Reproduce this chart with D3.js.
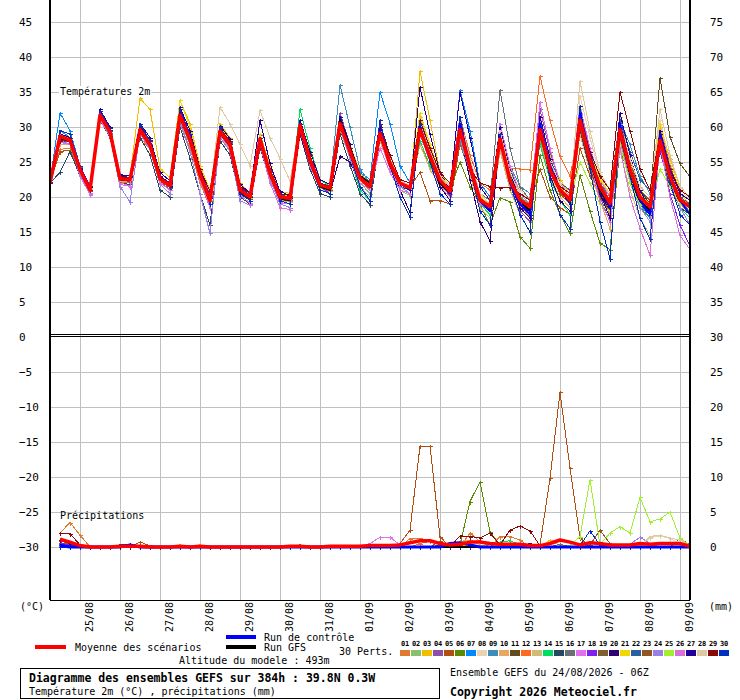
<!DOCTYPE html>
<html><head><meta charset="utf-8">
<script src="https://cdn.jsdelivr.net/npm/d3@7"></script>
<style>
body{margin:0;background:#fff;}
svg text{font-family:"DejaVu Sans Mono","Liberation Mono",monospace;fill:#000;}
</style></head><body>
<svg id="c" width="740" height="700"></svg>
<script>
// ---------- categories / ticks ----------
const dateLabels = ["25/08","26/08","27/08","28/08","29/08","30/08","31/08","01/09","02/09","03/09","04/09","05/09","06/09","07/09","08/09","09/09"];
const dateTickHours = [18,42,66,90,114,138,162,186,210,234,258,282,306,330,354,378];
const tempTicks = [45,40,35,30,25,20,15,10,5,0,-5,-10,-15,-20,-25,-30];
const mmTicks = [75,70,65,60,55,50,45,40,35,30,25,20,15,10,5,0];
const memberNames = ["01","02","03","04","05","06","07","08","09","10","11","12","13","14","15","16","17","18","19","20","21","22","23","24","25","26","27","28","29","30"];
const memberColors = ["#e07a30","#88c070","#f0c000","#8c50a8","#b05010","#5a8a00","#0088ff","#e8d4b0","#3c8cbc","#e8a860","#604c1c","#ff6820","#d0bc78","#00dc60","#284860","#687078","#e070f0","#8020f0","#806030","#300070","#f0d800","#2860a0","#905820","#9880e8","#a0f030","#d870d8","#200098","#e0c8a0","#880808","#0030c0"];

// ---------- temperature 2m (°C), 6-hourly from 24/08 06Z ----------
const meanTemp = [22, 28.7,28.1,23.9,21, 31.7,29.3,22.6,22.5, 29.6,27.4,22.6,21.6, 31.7,28.2,23.2,19.5, 29.4,27.5,21,20, 28.3,23.4,20,19.8, 30.3,25.3,21.7,21.3, 30.5,26.5,22.7,21.5, 29.1,24.8,22,21.3, 29.6,25.8,22.4,20.8, 29.6,24.3,19.6,18.6, 28.3,22.4,19.6,18.6, 29.6,23.9,21,19.6, 31,25.3,21.5,19.1, 29.6,23.9,20,18.6, 28.1,22.9,19.6,18.6];
const controlTemp = [22, 28.5,28,24,21.2, 31.8,29.5,22.8,22.6, 29.8,27.6,22.8,21.8, 32,28.5,23.5,20, 29.5,27.6,21.2,20.2, 28.3,23.5,20,19.8, 30.5,25.5,21.8,21.3, 30.5,26.5,22.8,21.5, 29.5,25,22,21, 30,26,22.5,20.5, 30.5,24.5,19.5,18, 28.5,22,19,17.5, 30.5,24.5,21,19.5, 32,26,21.5,18.5, 30.5,24,19.5,17.5, 29,23.5,19.5,17.5];
const gfsTemp = [22, 28.4,28,23.8,21, 31.6,29.2,22.5,22.4, 29.6,27.5,22.7,21.7, 31.5,28,23,19.7, 29.2,27.3,20.8,19.8, 28,23.2,19.8,19.5, 30,25,21.5,21, 31,27,23,22, 29,24.5,22,21, 29.5,25.5,22,20.5, 29.5,24,19.5,18, 28.5,22.5,19.5,18, 29,24,21,19.5, 31,25,21,18.5, 29,23.5,19.5,18, 28,23,19.5,18.5];
const t01 = [22, 26.8,27,23.5,20.8, 31,29,22.2,22, 28.5,26.8,22,21, 30.5,27,22,18.5, 28.6,26.5,20.5,19.5, 27.5,23,19.5,19, 29.5,24.8,21,20.5, 31.2,27,23,22, 28,24,21.5,21, 27.5,24.5,22,20.5, 30.5,25,20,18, 26.5,21.5,19,17, 31.5,25,21.5,19, 29,23.5,20.5,17.5, 30.5,25,20.5,19, 27,22,19,17.5];
const t02 = [22.1, 28.3,28,24,21.3, 31.5,29.5,22.8,22.3, 30,27.8,22.8,21.8, 30.8,27.5,22.5,19, 29,27,20.8,19.8, 28.8,24,20.2,19.6, 31,25.5,21.5,20.8, 29.5,25.5,22,20.5, 28,24,21,20.2, 30.5,26.5,23,21.5, 28.5,23,18.5,17, 29,23,20.5,19.5, 28,22.5,20,18.5, 32,26.5,22.5,20, 27.5,22,18.5,17, 29.5,24,20.5,19.5];
const t03 = [22, 29.5,29,24.5,21.5, 32,30,23.2,23, 34.1,32.5,24,22.8, 33.8,30.5,24.5,21, 30.5,28.5,22,20.5, 29,24.5,20.8,20.5, 31,26,22,21.5, 31.5,27.5,23.5,22, 30,25.5,22,21, 38,31,23.5,21.5, 31,25.5,20,18, 29.5,23,19,18, 30.5,26,22.5,20.5, 32,26,21,18.5, 31.5,25,20.5,19, 29,24,20.5,19];
const t04 = [22.2, 28,28.5,24.3,21.5, 32.3,29.8,22.5,22.2, 29,27,22.2,21, 32.5,29,23.5,20, 30,28,21.5,20.2, 27.8,22.8,19.5,19, 30,25,21,20.5, 32,27.5,23,21, 28.5,24,21.5,20.5, 31,26.5,22.5,20, 30,24.5,20,19, 27,21,18,16.5, 32.5,26.5,22,20.5, 30,24,20,16.5, 28.5,22.5,19,17.5, 30,24.5,20.5,19.5];
const t05 = [22, 26.5,26.7,23,20.5, 31,29.5,22.5,22.3, 29.5,27.5,22.8,21.7, 31.2,28,23,19.5, 29,27,21,19.8, 28.5,23.5,20,19.5, 30,25,21.5,21, 31,26.5,22.5,21, 28.5,24,22,21.5, 23.5,19.5,19.5,19, 27.5,23.5,20,18.5, 29,23.5,20.5,19, 24,20,18.5,17.5, 27,23,20,18.5, 29,24,20.5,19, 27.5,23,20,19];
const t06 = [22, 27.5,27.5,23.5,21, 31.5,29,22.5,22.5, 29,27,22.5,21.5, 32,28.5,23,19.5, 29.5,27.5,21,19.5, 28,23,19.5,19.5, 30.5,25.5,21.5,21, 30,26,22.5,21.5, 29.5,25,22,21, 29,25,22,21, 25,21.5,19,16, 19.9,19.3,14.3,12.7, 26,21,17.5,14.8, 23.1,18,13.4,12.5, 27,22.5,18.5,17, 27.5,22.5,19,18];
const t07 = [22.2, 32,29.5,24.5,21.5, 32.5,30,23,22.8, 30,27.5,22.5,21.5, 32,29,23.5,20, 29,27,20.5,19.5, 28,24,20.5,20, 30,25,21.5,21, 31.5,27,23.5,22.5, 35,30.5,24.5,22, 30,26,22,20.5, 35.3,29.5,22,20, 28,22,19,17.5, 30,24.5,21,20, 33,27,22.5,20.5, 29,23,19,17, 28.5,23,19.5,18];
const t08 = [22, 28.5,27.8,23.8,21.2, 31.8,29.2,22.7,22.4, 29.3,27.6,22.6,21.8, 31.5,28.3,23.5,20.3, 29.8,27.8,21.3,20.2, 28,23.5,20.2,20, 30,25.5,22,21.5, 30.5,26.5,23,22, 29.5,25.5,22.5,21.5, 29,25,22,21, 31,25.5,20.5,19.5, 30,24,21,19.5, 28.5,23,20.5,19, 34.5,28.5,23,20, 30,25,21.5,20, 31,25,21,19.5];
const t09 = [22.1, 29.5,28.5,24.2,21.3, 32,29.5,23,22.8, 30,28,23,22, 31.5,28,23,19.8, 29.5,27.5,21,20, 29,24,20.5,20, 30.5,25.5,22,21.5, 36,30,24,22, 29,24.5,22,21, 30,26,22.5,20.5, 28,23,19.5,18.5, 29.5,24.5,21.5,20.5, 27.5,22.5,19.5,18, 31.5,26,22,19.5, 31,27.5,23,20.5, 27.5,22.5,19.5,18];
const t10 = [22, 27.5,27.5,23.6,21, 31.2,29,22.3,22.2, 29.5,27.5,22.5,21.5, 31,27.5,22.5,19, 28.5,26.8,20.8,19.8, 28.5,23.5,19.8,19.5, 29.5,24.5,21,20.8, 30,26,22.5,21.5, 30.5,26,22.5,21.5, 27.5,24,21.5,20.5, 29,24,19.5,18.5, 27,21.5,18.5,17, 30.5,25,22,20, 29,23.5,19.5,15.5, 29.5,24,20,18, 30,25.5,21.5,20];
const t11 = [22, 28,28,24,21.2, 31.5,29.5,23,22.8, 29.8,27.8,23,22, 32,28.5,23.5,20.5, 30,28,21.5,20.5, 28.5,23.8,20.5,20.2, 30.5,25.5,22,21.5, 30,26,22.5,21.5, 29.5,25,22.5,21.5, 31,26.5,23,21, 30,25,20.5,19.5, 29,23,20,19, 29,23.5,20.5,19.5, 30.5,25,21.5,19.5, 30,24.5,21,19.5, 37,28.6,24.8,22.9];
const t12 = [22, 28.5,28,23.8,21, 31.5,29,22.5,22.3, 29,27,22.3,21.3, 31,28,23,19.5, 29,27,20.8,19.8, 28,23,19.8,19.5, 30,25,21.5,21, 30.5,26.5,22.5,21.5, 29,25,22.5,22, 30,26.5,23,21.5, 31.5,26,22,21, 28,24.1,24,23.9, 37.3,31,25.8,23, 30,24.5,20.5,18, 29,23.5,19.5,18, 28.5,23.5,20,19];
const t13 = [22, 28.8,28.2,24,21, 31.8,29.5,22.8,22.6, 30,28,22.8,21.8, 32,28.5,23.3,19.8, 29,27.3,20.8,19.8, 27.5,22.8,19.5,19.3, 29.5,24.8,21.3,21, 29.5,25.5,22,21, 28,24,21.5,20.5, 31.5,27,23,21, 28.5,23,18.5,17, 26.5,21,17.5,15, 28.5,23,20,18.5, 30.5,25,21,18, 26.5,21,17,14.5, 29.5,24,20.5,19.5];
const t14 = [22.2, 29,28.3,24,21.2, 31.5,29.2,22.4,22.4, 29.5,27.3,22.5,21.5, 31.5,28,23,19.6, 29.5,27.5,21,20, 28.5,23.5,20,19.8, 32.5,27,22.5,21.5, 30,25.5,21,19.5, 29,24.5,22,21, 28,24.5,22,20.5, 28.5,23.5,19,17.5, 29,23,20,19, 27.5,22.5,19.5,17.5, 30.5,24.5,20.5,18.5, 28.5,22.5,19,17.5, 27,22,18.5,17];
const t15 = [22, 23.5,26.5,23,20.8, 31,28.5,22,21.8, 28.5,26,21,20, 30,25.5,20.5,16, 28,26,20,19, 27,22.5,19,18.5, 29,24,20.5,20, 29,24.5,20.5,18.9, 28.5,24,21.5,21, 29.5,25.5,22,20.5, 30,24.5,19.5,18, 30.5,24,20.5,19.5, 30,24.5,21.5,20, 29.5,24,20.5,18.5, 32,26,21,19, 26.5,21.5,18.5,17.5];
const t16 = [22, 28.7,28.2,24.1,21.1, 31.6,29.4,22.7,22.6, 29.8,27.6,22.8,21.7, 31.8,28.4,23.4,20.1, 29.6,27.7,21.2,20.2, 28.8,24,20.5,20.2, 30,25,21.5,21.2, 31,27,23,21.5, 30,25.5,22.5,21.5, 30.5,26.5,23,21.5, 30.5,25,20.5,19.5, 35.3,27,21.5,19.5, 29,23.5,20.5,19, 31,25.5,22,20, 30.5,24.5,20.5,19, 28,23,20,19];
const t17 = [22, 28,27.6,23,20.3, 31,28.8,22,21.6, 29,26.8,22,21, 31,27.5,22.5,19, 28.5,26.5,20.2,19.2, 27.5,22.5,19.2,19, 29.5,24.5,21,20.5, 30,26,22,21, 27,23.5,21,20.5, 29,25,21.5,20, 28.5,23.5,19,18, 30.5,24.5,20.5,19, 33.5,27,22,20, 33,27,22.5,20, 29,23.5,19.5,18, 28.5,23,19.5,18.5];
const t18 = [22, 28.2,27.8,23.6,20.8, 32,29.5,22.5,22.2, 30.2,28,23,22, 32.5,29,23.5,20, 29.8,28,21.5,20.5, 28.2,23,19.5,19, 30.5,25.5,21.5,20.5, 31.5,27,23,21.5, 29.5,25,22,21, 30,25.5,22,20.5, 29,24,19.5,18.5, 28.5,22.5,19.5,18.5, 30.5,24.5,21,19, 30.5,24.5,20.5,18, 29.5,24,20,18.5, 27,20.5,16,13];
const t19 = [22, 28.6,28,23.8,21, 31.7,29.3,22.6,22.5, 29.4,27.2,22.4,21.4, 31.4,27.8,22.8,19.4, 29.2,27.2,20.8,19.8, 28,23,19.8,19.6, 30,25,21.5,21, 30,26.5,23,22, 28.5,24.5,22,21.5, 29,25.5,22.5,21, 29,24,19.5,18, 27.5,22,19,18, 29,24,21,19.5, 31,25.5,21.5,19, 30.5,25,21,19.5, 29,23.5,20,19];
const t20 = [22, 28.4,28.2,24,21.2, 31.6,29.6,23,22.7, 29.6,27.4,22.6,21.6, 31.6,28.3,23.2,19.8, 29.4,27.6,21,20, 28.4,23.5,20,19.8, 29,24.5,21,20.5, 25.8,25,22,21, 30.5,25,21,17.8, 29.5,25.5,21.5,19.5, 29,22.5,16.5,13.7, 28.5,22,18.5,17, 29.5,23,19.5,18, 31.5,25,20.5,18, 29,23,19,17.5, 28,22.5,19,18];
const t21 = [22, 29,28.5,24.2,21.3, 32,29.8,23,22.7, 30,28,23,22, 33.8,30,24,21, 30,28,21.5,20.5, 29,24,20.5,20, 30.5,25.5,22,21.5, 30.5,26.5,22.5,21.5, 30,25.5,22.5,21.5, 32,27.5,23.5,21.5, 29.5,24.5,20,19, 29,23.5,20.5,19.5, 30,24.5,21.5,20, 32.5,26.5,22.5,20.5, 30,24.5,20.5,19, 30.5,25,21,20];
const t22 = [22, 28.5,28,24,21.2, 31.8,29.5,22.8,22.6, 29.8,27.8,22.8,21.8, 32,28.5,23.5,20.2, 29.6,27.8,21.2,20.2, 28.5,23.8,20.3,20, 30.5,25.5,22,21.5, 30.5,26.5,22.5,21.5, 29,24.5,22,21, 30,26,22.5,21, 30.5,25,20.5,19, 28.5,22.5,19.5,18.5, 31,25.5,22,21, 31.5,26.5,23,21, 31,26.5,22.5,21, 28,23,20,19];
const t23 = [22, 28.3,27.8,23.7,20.9, 31.3,29,22.4,22.3, 29.2,27,22.3,21.3, 31,27.5,22.8,19.5, 29,27,20.7,19.7, 28,23.2,19.8,19.6, 30,25,21.5,21, 30,26,22.5,21.5, 29,25,22,21, 29,25.5,22,20.5, 29,24,19.5,18.5, 28.5,22.5,19.5,18.5, 29,23.5,20.5,19, 30,24.5,20,18, 28.5,23.5,19.5,18, 28.5,23,19.5,18.5];
const t24 = [22, 28,27.5,23.2,20.5, 31.2,28.6,21.5,19.3, 29,26.8,21.8,20.5, 30.5,26.5,20.5,14.8, 28.5,26.5,19.5,18.8, 27.5,22.5,19,18.5, 29.5,24.5,21,20.5, 30,25.5,21.5,20, 28.5,24,21.5,20.5, 29,25,22,20.5, 28.5,23.5,19,18, 27.5,22,19,18, 30,24,21,19.5, 31,25.5,21.5,19.5, 28,22.5,18.5,16.5, 27.5,22,18.5,16];
const t25 = [22, 28.6,28,23.9,21.1, 31.5,29.3,22.6,22.5, 29.5,27.3,22.5,21.5, 31.5,28,23,19.6, 29.2,27.3,20.9,19.9, 28.2,23.3,19.9,19.7, 30.2,25.2,21.6,21.2, 30.5,26.5,22.5,21.5, 29,24.5,22,21, 29.5,25.5,22.5,20.5, 29,24,19.5,18.5, 28,22.5,19.5,18.5, 29.5,24,21,19.5, 25,22,19,18, 27.5,22,19,18, 24,21.5,19,18];
const t26 = [22, 27.8,27.5,23.4,20.6, 31,28.7,21.8,21.5, 29,27,22,21, 31,27.5,22.5,18.5, 28.8,27,20.5,19, 27.5,22,18.5,18.2, 29.5,24.5,21,20.5, 30.5,26,22,21, 28.5,24,21,20.5, 29.5,25.5,22,20.5, 30,24.5,19.5,18, 28,22,19,18, 31,25,21,19, 32,25,19.5,16.5, 27,20,15.5,11.7, 27.5,20,14.5,12.5];
const t27 = [22, 29,28.5,24.2,21.4, 32.5,30,23.2,23, 30.5,28.5,23.5,22.3, 32.8,29.5,24,20.5, 30.2,28.3,21.8,20.6, 31,24.8,20.8,20.2, 31,26.5,22.5,21.8, 31.5,27.5,23,22, 30,25.5,22,21, 35.7,29,23.5,21, 35,28.5,21.5,19.5, 30,23.5,19.5,17.5, 31.5,25.5,21,19, 31,25,20.5,17, 32,26,21,18, 29.5,24,20.5,19.5];
const t28 = [22, 28.8,28.3,24,21.2, 31.5,29.3,22.8,22.6, 29.8,27.8,23,22, 31.8,28.5,23.5,20.5, 32.8,30.5,27.5,24.5, 32.4,28.5,25.5,22.3, 30.5,25.5,22,21.5, 30.5,26.5,22.5,21.5, 29.5,25.5,22.5,21.5, 30.5,26.5,23,21.5, 31,25.5,20.5,19, 29.5,23.5,20.5,19.5, 30,25,22,20.5, 36.5,29.5,23.5,21, 30.5,25.5,21.5,20, 32.5,26,21.5,20];
const t29 = [22, 28,28.5,24,21, 31.8,29.8,23,22.8, 30,28.2,23,22, 32,29,24,20.8, 29.8,28,21.5,20.5, 28.5,24,20.5,20.2, 30.5,26,22,21.5, 31,27,23,22, 30.5,26,22.5,22, 31,27,23.5,22, 30,24,22,21.5, 21.3,21.3,20.5,19.5, 29,24,21.5,20.5, 31,26.5,23,21, 35,29.5,24,21, 29,24,21,20];
const t30 = [22.2, 29.5,29,24.4,21.6, 32.3,29.8,22.8,22.8, 30.5,28,22.8,21.5, 32.5,29,23,19, 30,27.5,20.5,19.5, 28.5,23.5,19.5,19, 30.5,25,21,20.5, 31,26,21.5,19.5, 31,24.5,20,17.2, 30.5,25,20.5,19, 31.5,24,18,16, 29,22,17.5,15, 30,22.5,17.5,15.5, 33,24,16.5,11.2, 30,23,17,14, 28,22,17.5,16];
const memberTemps = [t01,t02,t03,t04,t05,t06,t07,t08,t09,t10,t11,t12,t13,t14,t15,t16,t17,t18,t19,t20,t21,t22,t23,t24,t25,t26,t27,t28,t29,t30];

// ---------- precipitation (mm / 6h), from 24/08 12Z ----------
const meanPrecip = [1.1,0.7,0.2,0,0,0,0.1,0.1, 0.1,0,0,0,0.1,0,0.1,0, 0,0,0,0,0,0,0,0.1, 0.1,0,0,0.1,0.1,0.1,0.1,0.2, 0.2,0.2,0.3,0.6,0.9,0.9,0.5,0.3, 0.4,0.7,0.7,0.5,0.4,0.4,0.4,0.2, 0.2,0.5,1,0.7,0.3,0.6,0.5,0.3, 0.3,0.3,0.5,0.4,0.5,0.5,0.5,0.1];
const controlPrecip = [0.2,0,0,0,0,0,0,0.3, 0,0,0,0,0,0,0,0, 0,0,0,0,0,0,0,0, 0,0,0,0,0,0,0,0, 0,0,0,0,0,0,0,0.5, 0.6,0.3,0,0,0,0,0,0, 0,0,0,0,0,0,0,0, 0,0,0,0,0,0,0,0];
const gfsPrecip = [0.3,0,0,0,0,0,0,0, 0,0,0,0,0,0,0,0, 0,0,0,0,0,0,0,0, 0,0,0,0,0,0,0,0, 0.2,0.3,0,0,0,0,0,0, 0,0,0,0,0,0,0,0, 0,0,0,0,0,0,0,0, 0,0,0,0,0,0,0,0];
const p01 = [2,3.5,1.7,0,0,0,0,0, 0,0,0,0,0,0,0,0, 0,0,0,0,0,0,0,0, 0,0,0,0,0,0,0,0, 0,0,0,1.2,1.2,1,0.3,0, 0,2,0.8,0,1.5,1.5,1,0, 0,0,0,0,0,0,0,0, 0,0,0,0,0,0,0,0];
const p02 = [0.5,0.3,0,0,0,0,0,0, 0,0,0,0,0,0,0,0, 0,0,0,0,0,0,0,0, 0,0,0,0,0,0,0,0, 0,0,0,0,0,0,0,0, 0.3,0.4,0,0,0,0,0,0, 0,0,0,0,0,0,0,0, 0,0,0,0,0,0,0,0];
const p03 = [0.6,0.3,0,0,0,0,0,0, 0,0,0,0,0.3,0,0.3,0, 0,0,0,0,0,0,0,0, 0,0,0,0,0,0,0,0, 0,0,0,0,0,0,0,0, 0,0,0,0,0,0,0,0, 0,1,0.2,0,0,0,0,0, 0,0,0,0,0,0,0,0];
const p04 = [0.8,0.6,0,0,0,0,0,0, 0,0,0,0,0,0,0,0, 0,0,0,0,0,0,0,0, 0,0,0,0,0,0,0,0, 0,0,0,0,0,0,0,0, 0,0,0,0,0,0,0,0, 0,0,0,0,0,0,0,0, 0,0,0,0,0,0,0,0];
const p05 = [0.6,0.4,0,0,0,0,0,0, 0.7,0.2,0,0,0,0,0,0, 0,0,0,0,0,0,0,0, 0,0,0,0,0,0,0,0, 0,0,0.5,2.4,14.4,14.4,1.5,0, 0,0,0,0,0,0,0,0, 0.3,9.8,22.1,11.3,1.3,0,0,0, 0,0,0,0,0,0,1.2,0.3];
const p06 = [0,0,0,0,0,0,0,0, 0,0,0,0,0,0,0,0, 0,0,0,0,0,0,0,0, 0,0,0,0,0,0,0,0, 0,0,0,0,0,0,0,0, 0.3,6.5,9.3,2.2,0.2,0,0,0, 0,0,0,0,0,0,0,0, 0,0,0,0,0,0,0,0];
const p07 = [0.2,0,0,0,0,0,0,0, 0,0,0,0,0,0,0,0, 0,0,0,0,0,0,0,0, 0.3,0,0,0,0,0,0,0, 0,0,0,0,0,0,0,0, 0,0,0,0,0,0,0,0, 0,0,0,0,0,0,0,0, 0,0,0,0,0,0,0,0];
const p08 = [0,0,0,0,0,0,0,0, 0,0,0,0,0,0,0,0, 0,0,0,0,0,0,0,0, 0,0,0,0,0,0,0,0, 0,0,0,0,0,0,0,0, 0,0,0,0,0,0,0,0, 0,0,0,0,0,0,0,0, 0,0,0,1.3,1.6,1.2,0.5,0];
const p09 = [0.4,0.2,0,0,0,0,0,0, 0,0,0,0,0,0,0,0, 0,0,0,0,0,0,0,0, 0,0,0,0,0,0,0,0, 0,0,0,0,0,0,0,0, 0,0,0,0,0,0,0,0, 0,0,0,0,0,0,0,0, 0,0,0,0,0,0,0,0];
const p10 = [0,0,0,0,0,0,0,0, 0,0,0,0,0,0,0,0, 0,0,0,0,0,0,0,0, 0,0,0,0,0,0,0,0, 0,0,0,0,0,0,0,0, 0.8,1,0.3,0,0,0,0,0, 0,0,0,0,0,0,0,0, 0,0,0,0,0,0,0,0];
const p11 = [0,0,0,0,0,0,0,0, 0,0,0,0,0,0,0,0, 0,0,0,0,0,0,0,0, 0,0,0,0,0,0,0,0, 0,0,0,0,0,0,0.3,0.2, 0,0,0,0,0,0,0,0, 0,0,0,0,0,0,0,0, 0,0,0,0,0,0,0,0];
const p12 = [0.3,0,0,0,0,0,0,0, 0,0,0,0,0,0,0,0, 0,0,0,0,0,0,0,0, 0,0,0,0,0,0,0,0, 0,0,0,0,0.5,0.8,0.5,0, 0,0,0,0,0,0,0,0, 0,0,0,0,0,0,0,0, 0,0,0,0,0,0,0,0];
const p13 = [0,0,0,0,0,0,0,0, 0,0,0,0,0,0,0,0, 0,0,0,0,0,0,0,0, 0,0,0,0,0,0,0,0, 0,0,0,0,0,0,0,0, 0,0,0,0,0,0,0,0, 0,0,0,0,0,0,0,0, 0,0.3,0.6,0.3,0,0,0,0];
const p14 = [0,0,0,0,0,0,0,0, 0,0,0,0,0,0,0,0, 0,0,0,0,0,0,0,0, 0,0,0,0,0,0,0,0, 0,0,0,0,0,0,0,0, 0,0,0,0,0.7,0.9,0.3,0, 0,0,0,0,0,0,0,0, 0,0,0,0,0,0,0,0];
const p15 = [0.3,0,0,0,0,0,0,0, 0,0,0,0,0,0,0,0, 0,0,0,0,0,0,0,0, 0,0,0,0,0,0,0,0, 0,0,0,0,0,0,0,0, 0,0,0,0,0,0,0,0, 0,0,0,0,0,0,0,0, 0,0,0,0,0,0,0,0];
const p16 = [0,0,0,0,0,0,0,0, 0,0,0,0,0,0,0,0, 0,0,0,0,0,0,0,0, 0,0,0,0,0,0,0,0, 0,0,0,0,0,0,0,0, 0,0,0,0,0,0,0,0, 0,0,0.4,0,0,0,0,0, 0,0,0,0,0,0,0,0];
const p17 = [0,0,0,0,0,0,0,0, 0,0,0,0,0,0,0,0, 0,0,0,0,0,0,0,0, 0,0,0,0,0,0,0,0.5, 1.4,1.4,0.3,0,0,0,0,0, 0,0,0,0,0,0,0,0, 0,0,0,0,0,0,0,0, 0,0,0,0,0,0,0,0];
const p18 = [0.5,0.3,0,0,0,0,0,0, 0,0,0,0,0,0,0,0, 0,0,0,0,0,0,0,0, 0,0,0,0,0,0,0,0, 0,0,0,0,0,0,0,0, 0,0,0,0,0,0,0,0, 0,0,0,0,0,0,0,0, 0,0,0,0,0,0,0,0];
const p19 = [0,0,0,0,0,0,0,0, 0,0,0,0,0,0,0,0, 0,0,0,0,0,0,0,0, 0,0,0,0,0,0,0,0, 0,0,0,0,0,0,0,0, 0,0,0,0,0,0,0,0.4, 0,0,0,0,0,0,0,0, 0,0,0,0,0,0,0,0];
const p20 = [0,0,0,0,0,0,0,0, 0,0,0,0,0,0,0,0, 0,0,0,0,0,0,0,0, 0,0,0,0,0,0,0,0, 0,0,0,0,0,0,0,0, 0,0,0,0,0,0,0,0.5, 0,0,0,0,0,0,0,0, 0,0,0,0,0,0,0,0];
const p21 = [0,0,0,0,0,0,0,0, 0,0,0,0,0,0,0,0, 0,0,0,0,0,0,0,0, 0,0,0,0,0,0,0,0, 0,0,0,0,0,0,0,0, 0.4,0,0,0,0,0,0,0, 0,0,0,0,0,0,0,0, 0,0,0,0,0,0,0,0];
const p22 = [0.3,0.2,0,0,0,0,0,0.4, 0,0,0,0,0,0,0,0, 0,0,0,0,0,0,0,0, 0,0,0,0,0,0,0,0, 0,0,0,0,0,0,0,0, 0,0,0,0,0,0,0,0, 0,0,0,0,0,0,0,0, 0,0,0,0,0,0,0,0];
const p23 = [0,0,0,0,0,0,0,0, 0,0,0,0,0,0,0,0, 0,0,0,0,0,0,0,0, 0,0,0,0,0,0,0,0, 0,0,0,0,0,0,0.8,0, 0,0,0,0,0,0,0,0, 0,0,0,0,0,0.3,2.4,0.5, 0,0,0,0,0,0,0,0];
const p24 = [0,0,0,0,0,0,0,0, 0,0,0,0,0,0,0,0, 0,0,0,0,0,0,0,0, 0,0,0,0,0,0,0,0, 0,0,0,0,0,0,0,0, 0,0,0,0,0,0,0,0, 0,0,0,0,0,0,0,0, 0,0.4,1.4,0.5,0,0,0,0];
const p25 = [0,0,0,0,0,0,0,0, 0,0,0,0,0,0,0,0, 0,0,0,0,0,0,0,0, 0,0,0,0,0,0,0,0, 0,0,0,0,0,0,0,0, 0,0,0,0,0,0,0,0, 0,0,0,0.2,1.5,9.6,0.3,2, 2.9,2,7.1,3.6,4,5,1.3,0.2];
const p26 = [0.2,0,0,0,0,0,0,0, 0,0,0,0,0,0,0,0, 0,0,0,0,0,0,0,0, 0,0,0,0,0,0,0,0, 0,0,0,0,0,0,0,0, 0,0,0,0,0,0,0,0, 0,0,0,0,0,0,0,0, 0,0,0,0,0,0,0,0];
const p27 = [1,0.5,0,0,0,0,0,0, 0,0,0,0,0,0,0,0, 0,0,0,0,0,0,0,0, 0,0,0,0,0,0,0,0, 0,0,0,0,0,0,0,0, 0,0,0,0,0,0,0,0, 0,0,0,0,0,0,0,0, 0,0,0,0,0,0,0,0];
const p28 = [0,0,0,0,0,0,0,0, 0,0,0,0,0,0,0,0, 0,0,0,0,0,0,0,0, 0,0,0,0,0,0,0,0, 0,0,0,0,0,0,0,0, 0,0,0,0,0,0,0,0, 0,0,0,0,0,0,0,0, 0,0,0,1.5,1.7,1.3,1,0.2];
const p29 = [2,1.9,0.3,0,0,0,0,0, 0,0,0,0,0,0,0,0, 0,0,0,0,0,0,0,0, 0,0,0,0,0,0,0,0, 0,0,0,0,0,0,0,0, 1.6,1.5,1.3,2,0.3,2.4,3,2.3, 0.2,0,0,0,0,0,0,0, 0,0,0,0,0,0,0,0];
const p30 = [0,0,0,0,0,0,0.3,0.4, 0,0,0,0,0,0,0,0, 0,0,0,0,0,0,0,0, 0,0,0,0,0,0,0,0, 0,0,0,0,0,0,0,0, 0,0,0,0,0,0,0,0, 0,0,0,0,0.2,2.3,0.3,0, 0,0,0,0,0,0,0,0];
const memberPrecip = [p01,p02,p03,p04,p05,p06,p07,p08,p09,p10,p11,p12,p13,p14,p15,p16,p17,p18,p19,p20,p21,p22,p23,p24,p25,p26,p27,p28,p29,p30];

// ---------- drawing ----------
const svg = d3.select("#c");
const tempHours = d3.range(0, 385, 6);    // 65 steps
const precipHours = d3.range(6, 385, 6);  // 64 steps
const x = d3.scaleLinear().domain([0, 384]).range([50, 690]);
const y = d3.scaleLinear().domain([-30, 45]).range([547, 22]);
const yR = d3.scaleLinear().domain([0, 75]).range([547, 22]);

svg.append("rect").attr("width",740).attr("height",700).attr("fill","#fff");
svg.append("defs").append("clipPath").attr("id","plot")
  .append("rect").attr("x",50).attr("y",0).attr("width",640).attr("height",600);

// grid
const grid = svg.append("g").attr("shape-rendering","crispEdges").attr("stroke","#c0c0c0").attr("stroke-width",1);
grid.selectAll("line.h").data(tempTicks.filter(v => v !== 0)).join("line").attr("class","h")
  .attr("x1",50).attr("x2",690).attr("y1",d => Math.round(y(d)) + 0.5).attr("y2",d => Math.round(y(d)) + 0.5);
grid.selectAll("line.v").data(dateTickHours).join("line").attr("class","v")
  .attr("x1",d => Math.round(x(d)) + 0.5).attr("x2",d => Math.round(x(d)) + 0.5).attr("y1",0).attr("y2",600);

// axes (labels)
const axL = svg.append("g").attr("transform","translate(50,0)")
  .call(d3.axisLeft(y).tickValues(tempTicks).tickSize(0).tickFormat(d3.format("d")));
axL.select(".domain").remove();
axL.selectAll("text").attr("x",-31).attr("text-anchor","start").attr("font-size",11)
  .attr("font-family","DejaVu Sans Mono");
const axR = svg.append("g").attr("transform","translate(690,0)")
  .call(d3.axisRight(yR).tickValues(mmTicks).tickSize(0).tickPadding(20).tickFormat(d3.format("d")));
axR.select(".domain").remove();
axR.selectAll("text").attr("font-size",11).attr("font-family","DejaVu Sans Mono");
const axB = svg.append("g").attr("transform","translate(0,600)")
  .call(d3.axisBottom(x).tickValues(dateTickHours).tickSize(0).tickFormat((d,i) => dateLabels[i]));
axB.select(".domain").remove();
axB.selectAll("text").attr("font-size",10).attr("font-family","DejaVu Sans Mono")
  .attr("text-anchor","end").attr("dy",0).attr("y",0)
  .attr("transform","translate(12,2) rotate(-90)");

// data layer
const data = svg.append("g").attr("clip-path","url(#plot)");
const lineT = d3.line().x((d,i) => x(tempHours[i])).y(d => y(d));
const lineP = d3.line().x((d,i) => x(precipHours[i])).y(d => yR(d));
const cross = "M-2,0H2M0,-2V2";

function drawSeries(g, values, hours, yScale, line, color, width, markers, crisp) {
  const p = g.append("path").attr("d", line(values)).attr("fill","none").attr("stroke",color)
    .attr("stroke-width",width).attr("stroke-linejoin","round");
  if (crisp) p.attr("shape-rendering","crispEdges");
  if (markers) {
    g.append("g").attr("shape-rendering","crispEdges").selectAll("path").data(values).join("path")
      .attr("transform",(d,i) => `translate(${Math.round(x(hours[i]))+0.5},${Math.round(yScale(d))+0.5})`)
      .attr("d",cross).attr("stroke",color).attr("stroke-width",1).attr("fill","none");
  }
}
memberPrecip.forEach((s,k) => drawSeries(data, s, precipHours, yR, lineP, memberColors[k], 1, true, true));
memberTemps.forEach((s,k) => drawSeries(data, s, tempHours, y, lineT, memberColors[k], 1, true, true));
drawSeries(data, gfsPrecip, precipHours, yR, lineP, "#000000", 2, false, false);
drawSeries(data, controlPrecip, precipHours, yR, lineP, "#0000ff", 3, false, false);
drawSeries(data, gfsTemp, tempHours, y, lineT, "#000000", 2, false, false);
drawSeries(data, controlTemp, tempHours, y, lineT, "#0000ff", 2, false, false);
drawSeries(data, meanPrecip, precipHours, yR, lineP, "#ff0000", 3.5, false, false);
drawSeries(data, meanTemp, tempHours, y, lineT, "#ff0000", 3.5, false, false);

// frame lines
const frame = svg.append("g").attr("stroke","#000").attr("shape-rendering","crispEdges");
frame.append("line").attr("x1",50).attr("x2",50).attr("y1",0).attr("y2",600).attr("stroke-width",2);
frame.append("line").attr("x1",690).attr("x2",690).attr("y1",0).attr("y2",600).attr("stroke-width",2);
frame.append("line").attr("x1",50).attr("x2",690).attr("y1",600.5).attr("y2",600.5).attr("stroke-width",1);
frame.append("line").attr("x1",50).attr("x2",690).attr("y1",334.5).attr("y2",334.5).attr("stroke-width",1);
frame.append("line").attr("x1",50).attr("x2",690).attr("y1",336.5).attr("y2",336.5).attr("stroke-width",1);

// in-plot titles
const titleBg = svg.append("rect").attr("fill","#fff");
const tt = svg.append("text").attr("x",60).attr("y",95).attr("font-size",10).text("Températures 2m");
const bb = tt.node().getBBox();
titleBg.attr("x",bb.x-1).attr("y",bb.y).attr("width",bb.width+2).attr("height",bb.height);
svg.append("text").attr("x",60).attr("y",519).attr("font-size",10).text("Précipitations");

// unit labels
svg.append("text").attr("x",20).attr("y",610).attr("font-size",10).text("(°C)");
svg.append("text").attr("x",709).attr("y",610).attr("font-size",10).text("(mm)");

// legend
const leg = svg.append("g");
leg.append("line").attr("x1",35).attr("x2",66).attr("y1",647).attr("y2",647).attr("stroke","#ff0000").attr("stroke-width",4);
leg.append("text").attr("x",75).attr("y",651).attr("font-size",10).text("Moyenne des scénarios");
leg.append("line").attr("x1",226).attr("x2",256).attr("y1",637).attr("y2",637).attr("stroke","#0000ff").attr("stroke-width",4);
leg.append("text").attr("x",264).attr("y",641).attr("font-size",10).text("Run de contrôle");
leg.append("line").attr("x1",226).attr("x2",256).attr("y1",647).attr("y2",647).attr("stroke","#000").attr("stroke-width",4);
leg.append("text").attr("x",264).attr("y",651).attr("font-size",10).text("Run GFS");
leg.append("text").attr("x",339).attr("y",655).attr("font-size",10).text("30 Perts.");
leg.selectAll("rect.sw").data(memberColors).join("rect").attr("class","sw")
  .attr("x",(d,i) => 400 + i*11).attr("y",650).attr("width",10).attr("height",6).attr("fill",d => d);
leg.selectAll("text.num").data(memberNames).join("text").attr("class","num")
  .attr("x",(d,i) => 405 + i*11).attr("y",646).attr("text-anchor","middle")
  .attr("font-size",7).attr("font-weight","bold").attr("letter-spacing",-0.3).text(d => d);
leg.append("text").attr("x",179).attr("y",664).attr("font-size",10).text("Altitude du modele : 493m");

// footer
svg.append("rect").attr("x",20.5).attr("y",668.5).attr("width",419).attr("height",30).attr("fill","none").attr("stroke","#000");
svg.append("text").attr("x",29).attr("y",682).attr("font-size",11.5).attr("font-weight","bold").text("Diagramme des ensembles GEFS sur 384h : 39.8N 0.3W");
svg.append("text").attr("x",29).attr("y",695).attr("font-size",10).text("Température 2m (°C) , précipitations (mm)");
svg.append("text").attr("x",450).attr("y",676).attr("font-size",10).text("Ensemble GEFS du 24/08/2026 - 06Z");
svg.append("text").attr("x",450).attr("y",696).attr("font-size",11.5).attr("font-weight","bold").text("Copyright 2026 Meteociel.fr");
</script>
</body></html>
